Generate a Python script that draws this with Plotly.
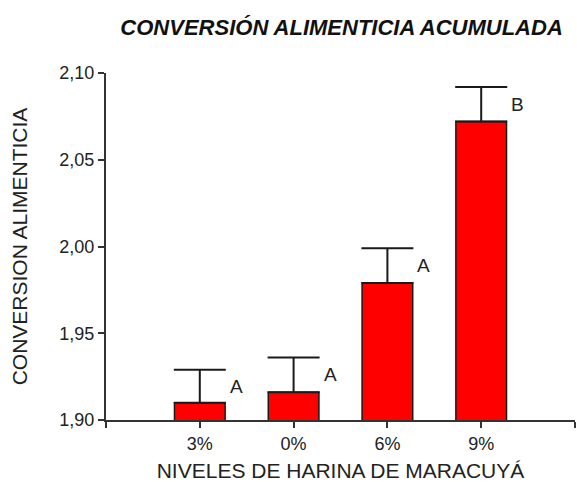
import plotly.graph_objects as go

# Feed conversion by passion-fruit flour level
niveles = ["3%", "0%", "6%", "9%"]
conversion = [1.910, 1.916, 1.979, 2.072]
error = [0.019, 0.020, 0.020, 0.020]
letras = ["A", "A", "A", "B"]
y_ticks = [1.90, 1.95, 2.00, 2.05, 2.10]

pos = list(range(len(niveles)))
font = "Liberation Sans, Arial, sans-serif"

fig = go.Figure()
fig.add_trace(go.Bar(
    x=pos,
    y=conversion,
    width=0.54,
    marker=dict(color="#ff0000", line=dict(color="#1a1a1a", width=1.5)),
    error_y=dict(type="data", array=error, symmetric=False, arrayminus=[0] * len(error),
                 color="#1a1a1a", thickness=2, width=26),
    showlegend=False,
))

for p, m, e, t in zip(pos, conversion, error, letras):
    fig.add_annotation(x=p + 0.39, y=m + e / 2, text=t, showarrow=False,
                       font=dict(family=font, size=19, color="#222"))

fig.update_layout(
    width=577, height=482,
    margin=dict(l=106, r=2, t=73, b=62),
    plot_bgcolor="white", paper_bgcolor="white",
    separators=",.",
    title=dict(text="<b><i>CONVERSIÓN ALIMENTICIA ACUMULADA</i></b>",
               x=0.592, xanchor="center", y=0.943, yanchor="middle",
               font=dict(family=font, size=22, color="#111")),
    xaxis=dict(
        range=[-1, 4],
        tickvals=[-1] + pos + [4],
        ticktext=[""] + niveles + [""],
        ticks="outside", ticklen=6, tickwidth=2, tickcolor="#333",
        showline=True, linecolor="#333", linewidth=2,
        showgrid=False, zeroline=False,
        tickfont=dict(family=font, size=18, color="#222"),
        title=dict(text="NIVELES DE HARINA DE MARACUYÁ", standoff=11,
                   font=dict(family=font, size=21, color="#222")),
    ),
    yaxis=dict(
        range=[1.90, 2.10],
        tickvals=y_ticks, tickformat=".2f",
        ticks="outside", ticklen=6, tickwidth=2, tickcolor="#333",
        showline=True, linecolor="#333", linewidth=2,
        showgrid=False, zeroline=False,
        tickfont=dict(family=font, size=18, color="#222"),
        title=dict(text="CONVERSION ALIMENTICIA", standoff=26,
                   font=dict(family=font, size=21, color="#222")),
    ),
)

fig.write_html("out.html")
